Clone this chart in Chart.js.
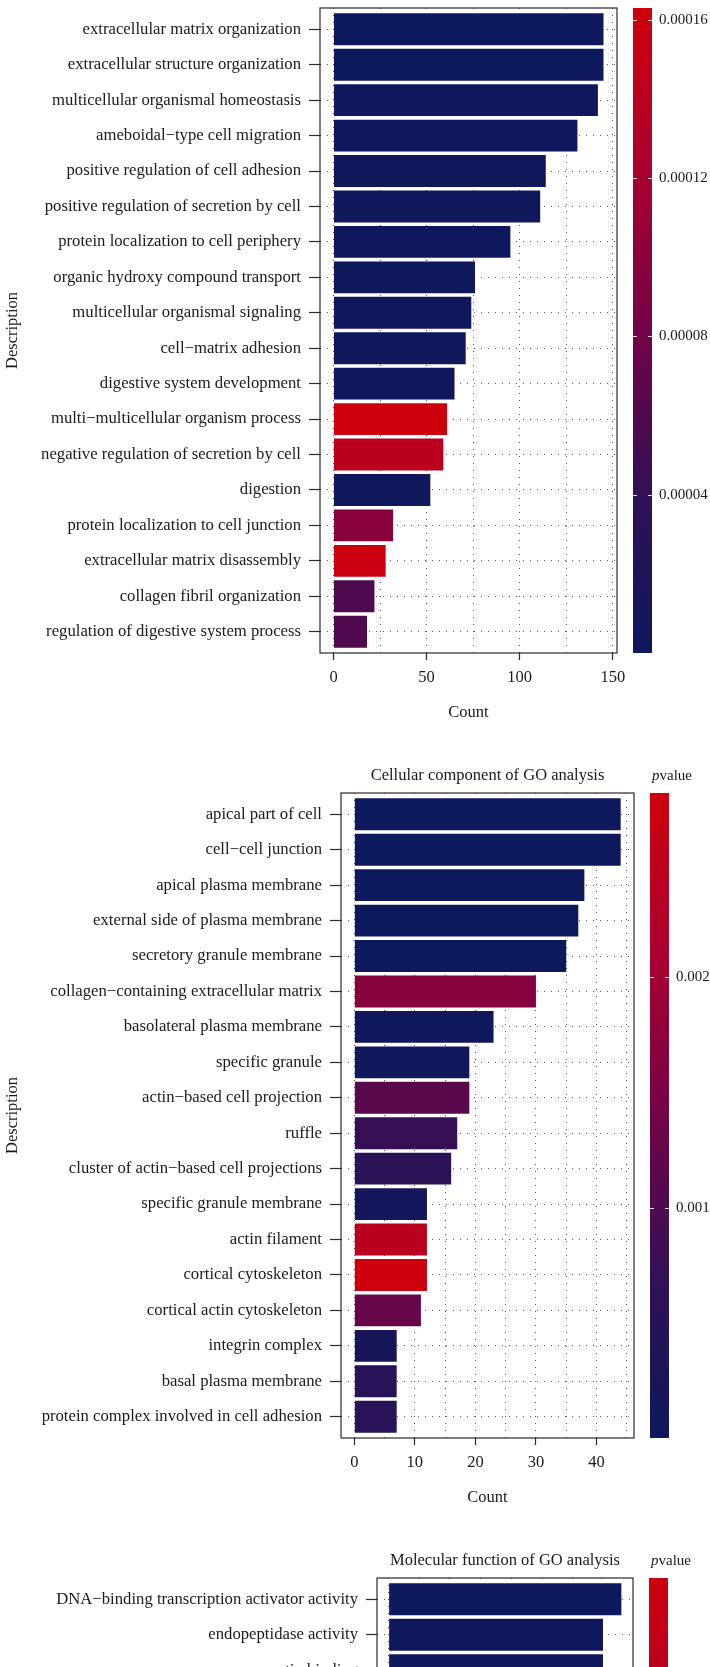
<!DOCTYPE html>
<html>
<head>
<meta charset="utf-8">
<script src="https://cdn.jsdelivr.net/npm/chart.js@4.4.0/dist/chart.umd.min.js"></script>
<style>
  html, body { margin: 0; padding: 0; background: #fff; overflow: hidden; }
  #page { position: relative; width: 710px; height: 1667px; overflow: hidden; background: #fff; }
  .panel { position: absolute; left: 0; width: 710px; height: 785px; }
</style>
</head>
<body>
<div id="page">
  <div class="panel" style="top:-32px"><canvas id="bp" width="710" height="785"></canvas></div>
  <div class="panel" style="top:753px"><canvas id="cc" width="710" height="785"></canvas></div>
  <div class="panel" style="top:1538px"><canvas id="mf" width="710" height="785"></canvas></div>
</div>
<script>
// GO 富集条形图 — 三个面板：BP / CC / MF（MF 只露出前三行）

// ── Biological process ──
const BP_TERMS = [
  'extracellular matrix organization',
  'extracellular structure organization',
  'multicellular organismal homeostasis',
  'ameboidal−type cell migration',
  'positive regulation of cell adhesion',
  'positive regulation of secretion by cell',
  'protein localization to cell periphery',
  'organic hydroxy compound transport',
  'multicellular organismal signaling',
  'cell−matrix adhesion',
  'digestive system development',
  'multi−multicellular organism process',
  'negative regulation of secretion by cell',
  'digestion',
  'protein localization to cell junction',
  'extracellular matrix disassembly',
  'collagen fibril organization',
  'regulation of digestive system process',
];
const BP_COUNT  = [145, 145, 142, 131, 114, 111, 95, 76, 74, 71, 65, 61, 59, 52, 32, 28, 22, 18];
const BP_PVALUE = [0.0000001, 0.0000001, 0.000001, 0.000001, 0.000002, 0.000002, 0.000001, 0.000002,
                   0.000003, 0.000002, 0.000003, 0.000163, 0.000142, 0.000003, 0.0000985, 0.00016,
                   0.000058, 0.00006];
const BP_PRANGE = [0, 0.000163];
const BP_PTICKS = ['0.00004', '0.00008', '0.00012', '0.00016'];
const BP_XGRID  = [0, 25, 50, 75, 100, 125, 150];
const BP_XLABELS = [0, 50, 100, 150];

// ── Cellular component ──
const CC_TERMS = [
  'apical part of cell',
  'cell−cell junction',
  'apical plasma membrane',
  'external side of plasma membrane',
  'secretory granule membrane',
  'collagen−containing extracellular matrix',
  'basolateral plasma membrane',
  'specific granule',
  'actin−based cell projection',
  'ruffle',
  'cluster of actin−based cell projections',
  'specific granule membrane',
  'actin filament',
  'cortical cytoskeleton',
  'cortical actin cytoskeleton',
  'integrin complex',
  'basal plasma membrane',
  'protein complex involved in cell adhesion',
];
const CC_COUNT  = [44, 44, 38, 37, 35, 30, 23, 19, 19, 17, 16, 12, 12, 12, 11, 7, 7, 7];
const CC_PVALUE = [0.000001, 0.000002, 0.000003, 0.000004, 0.000005, 0.00165, 0.00002, 0.00004,
                   0.00112, 0.00075, 0.00056, 0.00014, 0.00244, 0.0028, 0.00126, 0.00017,
                   0.0005, 0.00053];
const CC_PRANGE = [0, 0.0028];
const CC_PTICKS = ['0.001', '0.002'];
const CC_XGRID  = [0, 5, 10, 15, 20, 25, 30, 35, 40, 45];
const CC_XLABELS = [0, 10, 20, 30, 40];

// ── Molecular function (页面只显示前三行) ──
const MF_TERMS = [
  'DNA−binding transcription activator activity',
  'endopeptidase activity',
  'actin binding',
];
const MF_COUNT  = [38, 35, 35];
const MF_PVALUE = [0.000001, 0.00003, 0.00003];
const MF_PRANGE = [0, 0.003];
const MF_PTICKS = [];
const MF_XGRID  = [0, 5, 10, 15, 20, 25, 30, 35];
const MF_XLABELS = [0, 10, 20, 30];

const SERIF = '"Liberation Serif", "DejaVu Serif", serif';
const INK   = '#1a1a1a';
const AXIS  = '#2a2a2a';
const GRID  = '#555';
const PLOT_H = 645;   // 面板绘图区高度（px）
const ROWS   = 18;    // 每个面板的行数（ggplot 离散轴两端各留 0.6 行）

// 颜色条：低 p 值 = 深蓝，高 p 值 = 红
const STOPS = [
  [0,    [14, 24, 92]],
  [0.25, [50, 16, 86]],
  [0.5,  [115, 3, 70]],
  [0.75, [170, 0, 48]],
  [1,    [205, 0, 12]],
];

function pColor(p, [lo, hi]) {
  const t = Math.min(1, Math.max(0, (p - lo) / (hi - lo)));
  for (let i = 1; i < STOPS.length; i++) {
    const [t1, c1] = STOPS[i];
    if (t <= t1) {
      const [t0, c0] = STOPS[i - 1];
      const f = (t - t0) / (t1 - t0);
      return 'rgb(' + c0.map((v, k) => Math.round(v + (c1[k] - v) * f)).join(',') + ')';
    }
  }
  return 'rgb(' + STOPS[STOPS.length - 1][1].join(',') + ')';
}

// 边框、标题、轴标题、p 值颜色条
const goDecor = {
  id: 'goDecor',
  afterDraw(chart, args, o) {
    const { ctx, chartArea: a } = chart;
    ctx.save();
    ctx.strokeStyle = AXIS;
    ctx.lineWidth = 1.2;
    ctx.strokeRect(a.left, a.top, a.right - a.left, a.bottom - a.top);

    ctx.fillStyle = INK;
    ctx.font = `16.5px ${SERIF}`;
    ctx.textAlign = 'center';
    ctx.textBaseline = 'middle';
    const cx = (a.left + a.right) / 2;
    ctx.fillText(o.title, cx, a.top - 17);
    ctx.fillText('Count', cx, a.top + 705);
    ctx.save();
    ctx.translate(13, a.top + PLOT_H / 2);
    ctx.rotate(-Math.PI / 2);
    ctx.fillText('Description', 0, 0);
    ctx.restore();

    // 颜色条
    const x0 = a.right + 16, w = 19, y0 = a.top, h = PLOT_H;
    const g = ctx.createLinearGradient(0, y0 + h, 0, y0);
    STOPS.forEach(([t, c]) => g.addColorStop(t, `rgb(${c.join(',')})`));
    ctx.fillStyle = g;
    ctx.fillRect(x0, y0, w, h);

    const [lo, hi] = o.prange;
    ctx.font = `15px ${SERIF}`;
    ctx.textAlign = 'left';
    o.pticks.forEach(lbl => {
      const y = Math.round(y0 + h * (1 - (Number(lbl) - lo) / (hi - lo))) + 0.5;
      ctx.strokeStyle = 'rgba(255,255,255,0.85)';
      ctx.lineWidth = 1;
      ctx.beginPath();
      ctx.moveTo(x0, y); ctx.lineTo(x0 + 4, y);
      ctx.moveTo(x0 + w - 4, y); ctx.lineTo(x0 + w, y);
      ctx.stroke();
      ctx.fillStyle = INK;
      ctx.fillText(lbl, x0 + w + 7, y);
    });

    // 图例标题: 斜体 p + value
    ctx.fillStyle = INK;
    ctx.font = `italic 15px ${SERIF}`;
    const pw = ctx.measureText('p').width;
    ctx.fillText('p', x0 + 2, a.top - 17);
    ctx.font = `15px ${SERIF}`;
    ctx.fillText('value', x0 + 2 + pw, a.top - 17);
    ctx.restore();
  }
};

function goPanel(id, o) {
  return new Chart(document.getElementById(id), {
    type: 'bar',
    data: {
      datasets: [{
        data: o.count.map((c, i) => ({ x: c, y: i })),
        backgroundColor: o.pvalue.map(p => pColor(p, o.prange)),
        barPercentage: 0.9,
        categoryPercentage: 1,
        borderWidth: 0,
      }]
    },
    options: {
      indexAxis: 'y',
      responsive: false,
      animation: false,
      layout: { padding: { top: 40, right: 710 - o.box[1], left: 0, bottom: 0 } },
      plugins: {
        legend: { display: false },
        tooltip: { enabled: false },
        goDecor: { title: o.title, prange: o.prange, pticks: o.pticks },
      },
      scales: {
        x: {
          type: 'linear',
          min: o.xrange[0],
          max: o.xrange[1],
          afterFit: s => { s.height = 785 - 40 - PLOT_H; },
          afterBuildTicks: s => { s.ticks = o.xgrid.map(v => ({ value: v })); },
          ticks: {
            autoSkip: false,
            maxRotation: 0,
            padding: 8,
            color: INK,
            font: { family: SERIF, size: 16.5 },
            callback: v => o.xlabels.includes(v) ? String(v) : '',
          },
          grid: {
            color: GRID,
            lineWidth: 1,
            tickLength: 7,
            tickWidth: 1.2,
            tickColor: c => (c.tick && o.xlabels.includes(c.tick.value)) ? AXIS : 'rgba(0,0,0,0)',
            tickBorderDash: [],
          },
          border: { display: false, dash: [1, 6] },
        },
        y: {
          type: 'linear',
          reverse: true,
          offset: false,
          min: -0.6,
          max: ROWS - 1 + 0.6,
          afterFit: s => { s.width = o.box[0]; },
          afterBuildTicks: s => { s.ticks = o.terms.map((t, i) => ({ value: i })); },
          ticks: {
            autoSkip: false,
            padding: 8,
            color: INK,
            font: { family: SERIF, size: 16.7 },
            callback: v => o.terms[v] ?? '',
          },
          grid: {
            offset: false,
            color: GRID,
            lineWidth: 1,
            tickLength: 11,
            tickWidth: 1.2,
            tickColor: AXIS,
            tickBorderDash: [],
          },
          border: { display: false, dash: [1, 6] },
        },
      },
    },
    plugins: [goDecor],
  });
}

goPanel('bp', {
  title: 'Biological process of GO analysis',
  terms: BP_TERMS, count: BP_COUNT, pvalue: BP_PVALUE,
  prange: BP_PRANGE, pticks: BP_PTICKS,
  xgrid: BP_XGRID, xlabels: BP_XLABELS, xrange: [-7.25, 152.25],
  box: [320, 617],
});

goPanel('cc', {
  title: 'Cellular component of GO analysis',
  terms: CC_TERMS, count: CC_COUNT, pvalue: CC_PVALUE,
  prange: CC_PRANGE, pticks: CC_PTICKS,
  xgrid: CC_XGRID, xlabels: CC_XLABELS, xrange: [-2.2, 46.2],
  box: [341, 634],
});

goPanel('mf', {
  title: 'Molecular function of GO analysis',
  terms: MF_TERMS, count: MF_COUNT, pvalue: MF_PVALUE,
  prange: MF_PRANGE, pticks: MF_PTICKS,
  xgrid: MF_XGRID, xlabels: MF_XLABELS, xrange: [-1.9, 39.9],
  box: [377, 633],
});
</script>
</body>
</html>
